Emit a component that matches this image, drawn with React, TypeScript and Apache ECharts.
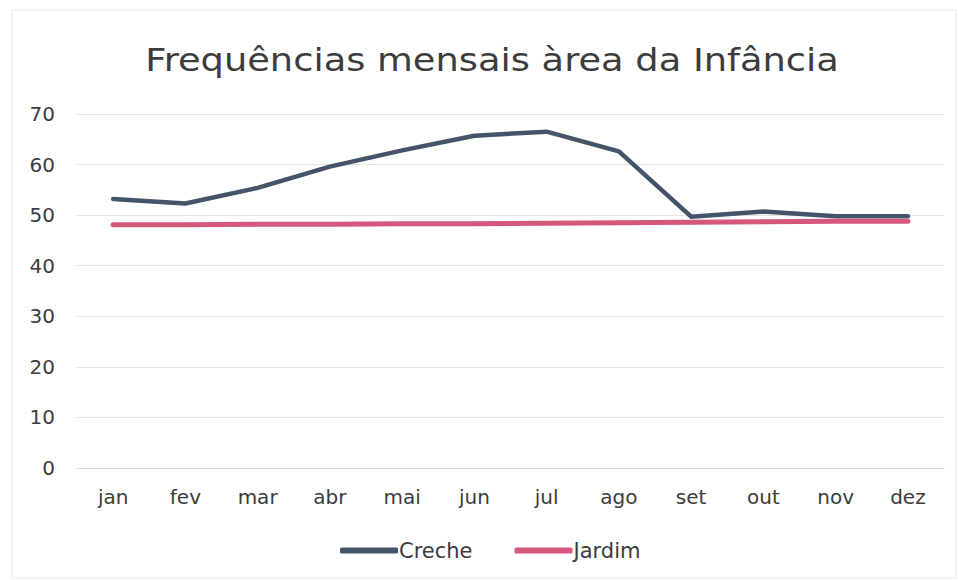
import React, { useEffect, useRef } from "react";
import * as echarts from "echarts";

const titleText = "Frequências mensais àrea da Infância";
const months = ["jan", "fev", "mar", "abr", "mai", "jun", "jul", "ago", "set", "out", "nov", "dez"];
const creche = [53.2, 52.3, 55.4, 59.6, 62.8, 65.7, 66.5, 62.6, 49.7, 50.7, 49.8, 49.8];
const jardim = [48.1, 48.1, 48.2, 48.2, 48.3, 48.3, 48.4, 48.5, 48.6, 48.7, 48.8, 48.8];
const yTicks = { min: 0, max: 70, interval: 10 };

const FONT = "'DejaVu Sans', 'Lato', sans-serif";
const TXT = "#3c3c3c";

export default function App() {
  const ref = useRef<HTMLDivElement>(null);
  useEffect(() => {
    const chart = echarts.init(ref.current!, null, { renderer: "svg" });
    chart.setOption({
      animation: false,
      backgroundColor: "#ffffff",
      textStyle: { fontFamily: FONT, color: TXT },
      grid: { left: 77, right: 14, top: 114, bottom: 112, containLabel: false },
      legend: {
        bottom: 14,
        left: 335,
        itemWidth: 58,
        itemHeight: 6,
        itemGap: 42,
        icon: "roundRect",
        textStyle: { fontFamily: FONT, fontSize: 21, color: TXT, padding: [0, 0, 0, -4] },
        data: ["Creche", "Jardim"],
      },
      xAxis: {
        type: "category",
        data: months,
        boundaryGap: true,
        axisLine: { lineStyle: { color: "#d9d9d9", width: 1 } },
        axisTick: { show: false },
        axisLabel: { fontFamily: FONT, fontSize: 20, color: TXT, margin: 19 },
      },
      yAxis: {
        type: "value",
        min: yTicks.min,
        max: yTicks.max,
        interval: yTicks.interval,
        axisLine: { show: false },
        axisTick: { show: false },
        splitLine: { lineStyle: { color: "#e3e3e3", width: 1 } },
        axisLabel: { fontFamily: FONT, fontSize: 20, color: TXT, margin: 22 },
      },
      series: [
        {
          name: "Creche",
          type: "line",
          data: creche,
          symbol: "none",
          lineStyle: { color: "#44546A", width: 4.5, cap: "round", join: "round" },
          itemStyle: { color: "#44546A" },
        },
        {
          name: "Jardim",
          type: "line",
          data: jardim,
          symbol: "none",
          lineStyle: { color: "#D5587C", width: 5, cap: "round", join: "round" },
          itemStyle: { color: "#D5587C" },
        },
      ],
      graphic: [
        {
          type: "rect",
          shape: { x: 12, y: 10, width: 944, height: 568 },
          style: { fill: "none", stroke: "#e6e6e6", lineWidth: 1 },
          silent: true,
        },
        {
          type: "text",
          x: 492,
          y: 60,
          scaleX: 1.15,
          silent: true,
          style: {
            text: titleText,
            font: "normal 32px 'DejaVu Sans', sans-serif",
            fill: TXT,
            align: "center",
            verticalAlign: "middle",
          },
        },
      ],
    });
    return () => chart.dispose();
  }, []);
  return (
    <div
      ref={ref}
      style={{ position: "absolute", left: 0, top: 0, width: 958, height: 580 }}
    />
  );
}
